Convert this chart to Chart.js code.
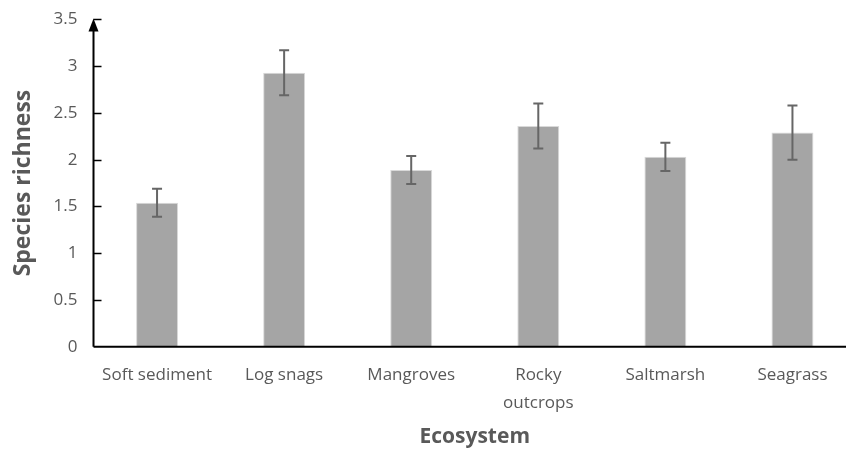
<!DOCTYPE html>
<html>
<head>
<meta charset="utf-8">
<script src="https://cdn.jsdelivr.net/npm/chart.js@4"></script>
<style>
  html, body { margin: 0; padding: 0; background: #fff; overflow: hidden; }
  #wrap { width: 856px; height: 450px; }
</style>
</head>
<body>
<div id="wrap"><canvas id="myChart"></canvas></div>
<script>
// categorias y valores
const ecosistemas = ["Soft sediment", "Log snags", "Mangroves", ["Rocky", "outcrops"], "Saltmarsh", "Seagrass"];
const riqueza = [1.54, 2.93, 1.89, 2.36, 2.03, 2.29];
const errores = [0.15, 0.24, 0.15, 0.24, 0.15, 0.29];
const ticksY = [0, 0.5, 1, 1.5, 2, 2.5, 3, 3.5];

const gris = "#595959";

//---- barras de error, flecha del eje y marcas hacia dentro ----
const extras = {
  id: "extras",
  afterDatasetsDraw(chart) {
    const ctx = chart.ctx;
    const x = chart.scales.x;
    const y = chart.scales.y;
    ctx.save();
    ctx.strokeStyle = "#666666";
    ctx.lineWidth = 2;
    riqueza.forEach((v, i) => {
      const cx = x.getPixelForValue(i);
      const top = y.getPixelForValue(v + errores[i]);
      const bot = y.getPixelForValue(v - errores[i]);
      ctx.beginPath();
      ctx.moveTo(cx, top); ctx.lineTo(cx, bot);
      ctx.moveTo(cx - 5, top); ctx.lineTo(cx + 5, top);
      ctx.moveTo(cx - 5, bot); ctx.lineTo(cx + 5, bot);
      ctx.stroke();
    });

    // ejes
    const left = chart.chartArea.left;
    const bottom = y.getPixelForValue(0);
    ctx.strokeStyle = "#000";
    ctx.lineWidth = 2;
    ctx.beginPath();
    ctx.moveTo(left, bottom); ctx.lineTo(chart.chartArea.right, bottom);
    ctx.moveTo(left, bottom); ctx.lineTo(left, y.getPixelForValue(3.5) + 6);
    ctx.stroke();
    ctx.lineWidth = 1.5;
    ticksY.forEach(t => {
      if (t === 0) return;
      const ty = Math.round(y.getPixelForValue(t)) + 0.5;
      ctx.beginPath();
      ctx.moveTo(left, ty); ctx.lineTo(left + 8, ty);
      ctx.stroke();
    });
    // flecha
    const tip = y.getPixelForValue(3.5) - 1;
    ctx.fillStyle = "#000";
    ctx.beginPath();
    ctx.moveTo(left, tip);
    ctx.lineTo(left - 5, tip + 13);
    ctx.lineTo(left + 5, tip + 13);
    ctx.closePath();
    ctx.fill();
    ctx.restore();
  }
};

const grafico = new Chart(document.querySelector("#myChart"), {
  type: "bar",
  data: {
    labels: ecosistemas,
    datasets: [{
      data: riqueza,
      backgroundColor: "#a5a5a5",
      borderColor: "#d9d9d9",
      borderWidth: { left: 1, right: 1, top: 1, bottom: 0 },
      barPercentage: 0.33,
      categoryPercentage: 1,
    }],
  },
  options: {
    responsive: true,
    maintainAspectRatio: false,
    animation: false,
    layout: { padding: { top: 12, right: 0, left: 10, bottom: 0 } },
    plugins: { legend: { display: false }, tooltip: { enabled: false } },
    scales: {
      x: {
        grid: { display: false, drawTicks: false },
        border: { display: false },
        ticks: {
          color: gris,
          padding: 14,
          maxRotation: 0,
          autoSkip: false,
          font: { family: "Open Sans", size: 17, lineHeight: 1.65 },
        },
        title: {
          display: true,
          text: "Ecosystem",
          color: gris,
          padding: { top: -6, bottom: 0 },
          font: { family: "Open Sans", size: 21, weight: "bold" },
        },
      },
      y: {
        min: 0,
        max: 3.5,
        grid: { display: false, drawTicks: false },
        border: { display: false },
        afterBuildTicks: (axis) => { axis.ticks = ticksY.map(v => ({ value: v })); },
        ticks: {
          color: gris,
          padding: 16,
          font: { family: "Open Sans", size: 17, lineHeight: 0.4 },
          callback: (v) => String(v),
        },
        title: {
          display: true,
          text: "Species richness",
          color: gris,
          padding: { top: 0, bottom: 0 },
          font: { family: "Open Sans", size: 23, weight: "bold" },
        },
      },
    },
  },
  plugins: [extras],
});
</script>
</body>
</html>
